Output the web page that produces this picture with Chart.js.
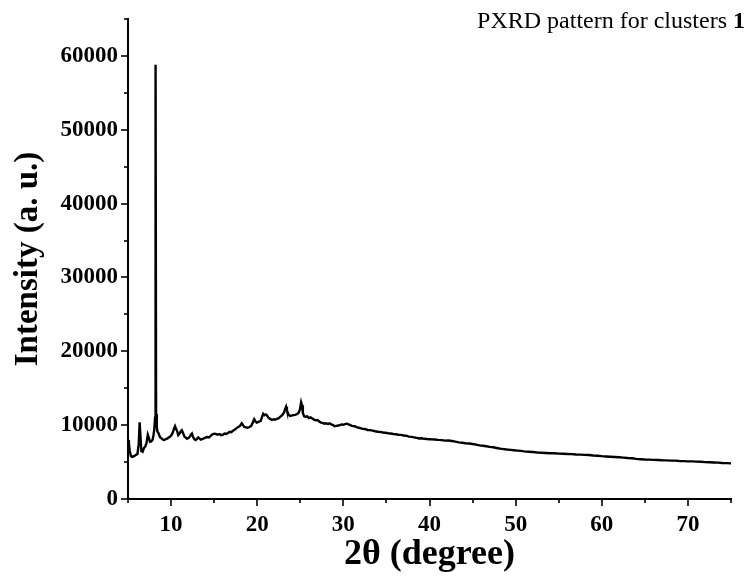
<!DOCTYPE html>
<html>
<head>
<meta charset="utf-8">
<script src="https://cdn.jsdelivr.net/npm/chart.js@4.4.1/dist/chart.umd.min.js"></script>
<style>
html,body{margin:0;padding:0;background:#fff;}
#wrap{position:relative;width:748px;height:577px;}
</style>
</head>
<body>
<div id="wrap"><canvas id="c" width="748" height="577"></canvas></div>
<script>
// ---- data ----
const chartTitle = "PXRD pattern for clusters ";
const chartTitleBold = "1";
const xTitle = "2θ (degree)";
const yTitle = "Intensity (a. u.)";
const xMajorTicks = [10, 20, 30, 40, 50, 60, 70];
const yMajorTicks = [0, 10000, 20000, 30000, 40000, 50000, 60000];

const twoTheta = [
  5.0,5.1,5.2,5.35,5.5,5.7,5.9,6.1,6.25,6.35,6.45,6.55,6.7,6.85,7.0,7.15,7.3,7.42,7.55,7.7,7.85,7.95,8.05,8.14,8.2,8.26,8.34,8.42,8.55,8.7,8.85,9.0,9.15,9.3,9.45,9.6,9.75,9.9,
  10.05,10.2,10.35,10.46,10.58,10.7,10.84,10.95,11.1,11.25,11.4,11.55,11.7,11.85,12.0,12.15,12.3,12.42,12.55,12.7,12.85,13.0,13.15,13.3,13.45,13.6,13.8,14.0,14.2,14.4,14.6,14.8,
  15.0,15.2,15.4,15.6,15.8,16.0,16.2,16.4,16.6,16.8,17.0,17.2,17.4,17.6,17.8,18.0,18.2,18.35,18.5,18.7,18.9,19.1,19.3,19.5,19.65,19.8,19.95,
  20.1,20.25,20.4,20.55,20.7,20.85,21.0,21.15,21.3,21.5,21.7,21.9,22.1,22.3,22.5,22.7,22.9,23.1,23.25,23.35,23.45,23.6,23.8,24.0,24.2,24.4,24.6,24.8,24.95,
  25.1,25.2,25.3,25.45,25.6,25.8,26.0,26.2,26.4,26.6,26.8,27.0,27.2,27.4,27.6,27.8,28.0,28.2,28.4,28.6,28.8,29.0,29.2,29.4,29.6,29.8,
  30.0,30.2,30.4,30.6,30.8,31.0,31.3,31.6,31.9,32.2,32.5,32.8,33.1,33.4,33.7,34.0,34.3,34.6,34.9,35.2,35.5,35.8,36.1,36.4,36.7,37.0,37.3,37.6,37.9,38.2,38.5,38.8,39.1,39.4,39.7,
  40.0,40.3,40.6,41.0,41.4,41.8,42.2,42.6,43.0,43.4,43.8,44.2,44.6,45.0,45.4,45.8,46.2,46.6,47.0,47.4,47.8,48.2,48.6,49.0,49.4,49.8,
  50.2,50.6,51.0,51.5,52.0,52.5,53.0,53.5,54.0,54.5,55.0,55.5,56.0,56.5,57.0,57.5,58.0,58.5,59.0,59.5,
  60.0,60.5,61.0,61.5,62.0,62.5,63.0,63.5,64.0,64.5,65.0,65.5,66.0,66.5,67.0,67.5,68.0,68.5,69.0,69.5,
  70.0,70.5,71.0,71.5,72.0,72.5,73.0,73.5,74.0,74.5,75.0
];
const intensity = [
  8000,7600,6500,5800,5700,5800,5950,6100,7500,10400,8500,6500,6400,6900,7100,7600,8700,8300,7750,7800,8000,8600,9400,11000,58800,11500,9800,9100,8900,8400,8250,8100,8000,8050,8150,8200,8350,8450,
  8650,9000,9550,9850,9500,9200,8650,8800,9100,9300,8900,8450,8300,8150,8250,8400,8700,8850,8400,8100,8000,8150,8350,8200,8050,8100,8200,8300,8400,8350,8550,8750,
  8850,8800,8700,8800,8650,8700,8850,8800,8950,9100,9050,9250,9400,9600,9750,9900,10250,10000,9750,9700,9650,9750,9900,10400,10800,10500,10350,
  10400,10500,10550,11100,11550,11350,11450,11300,11000,10850,10700,10800,10750,10850,10950,11150,11350,11700,12200,12500,12000,11500,11250,11300,11350,11400,11500,11650,12100,
  13100,12700,11600,11200,11150,11200,10950,11050,10900,10750,10650,10700,10500,10350,10300,10200,10250,10150,10250,10100,10000,9850,9900,9950,10000,10100,
  10050,10150,10200,10100,10000,9900,9850,9700,9620,9500,9480,9350,9330,9250,9170,9100,9080,9000,8970,8900,8870,8800,8770,8700,8680,8600,8570,8450,8420,8350,8280,8200,8220,8150,8120,
  8100,8070,8050,8000,7970,7900,7920,7850,7760,7660,7610,7550,7510,7450,7360,7260,7210,7150,7060,7000,6910,6820,6760,6700,6660,6600,
  6550,6510,6450,6400,6360,6300,6260,6230,6200,6190,6150,6130,6100,6080,6030,6010,5970,5960,5900,5860,
  5800,5760,5720,5690,5650,5610,5550,5510,5430,5390,5350,5330,5300,5290,5250,5230,5200,5190,5150,5130,
  5100,5090,5060,5050,5000,4980,4950,4930,4880,4860,4830
];

// ---- chart ----
const points = twoTheta.map((t, i) => ({x: t, y: intensity[i]}));
const serif = "'Liberation Serif','Times New Roman',serif";

const tickPlugin = {
  id: 'tickMarks',
  afterDraw(chart) {
    const ctx = chart.ctx;
    const xs = chart.scales.x, ys = chart.scales.y;
    const area = chart.chartArea;
    ctx.save();
    ctx.strokeStyle = '#000';
    ctx.lineWidth = 1.6;
    for (let v = xs.min; v <= xs.max + 1e-9; v += 5) {
      const px = Math.round(xs.getPixelForValue(v));
      const len = xMajorTicks.includes(v) ? 7 : 4;
      ctx.beginPath(); ctx.moveTo(px, area.bottom); ctx.lineTo(px, area.bottom + len); ctx.stroke();
    }
    for (let v = ys.min; v <= ys.max + 1e-9; v += 5000) {
      const py = Math.round(ys.getPixelForValue(v));
      const len = yMajorTicks.includes(v) ? 7 : 4;
      ctx.beginPath(); ctx.moveTo(area.left, py); ctx.lineTo(area.left - len, py); ctx.stroke();
    }
    // title text at top right
    ctx.fillStyle = '#000';
    ctx.textBaseline = 'alphabetic';
    ctx.textAlign = 'left';
    ctx.font = "bold 24px " + serif;
    const wb = ctx.measureText(chartTitleBold).width;
    ctx.font = "24px " + serif;
    const wn = ctx.measureText(chartTitle).width;
    const right = 745;
    ctx.fillText(chartTitle, right - wb - wn, 28);
    ctx.font = "bold 24px " + serif;
    ctx.fillText(chartTitleBold, right - wb, 28);
    ctx.restore();
  }
};

const zeroPad = s => { s.paddingTop = 0; s.paddingBottom = 0; s.paddingLeft = 0; s.paddingRight = 0; };

new Chart(document.getElementById('c'), {
  type: 'line',
  data: {
    datasets: [{
      data: points,
      borderColor: '#000',
      borderWidth: 2.4,
      pointRadius: 0,
      tension: 0,
      fill: false
    }]
  },
  options: {
    responsive: false,
    animation: false,
    events: [],
    layout: {padding: {top: 19, right: 17, left: 0, bottom: 0}},
    plugins: {legend: {display: false}, tooltip: {enabled: false}, title: {display: false}},
    scales: {
      x: {
        type: 'linear', min: 5, max: 75,
        afterFit: s => { s.height = 78; zeroPad(s); },
        grid: {display: false},
        border: {display: true, color: '#000', width: 2},
        ticks: {
          stepSize: 5, padding: 4, color: '#000', maxRotation: 0, autoSkip: false,
          font: {family: serif, size: 23, weight: 'bold'},
          callback: v => xMajorTicks.includes(v) ? String(v) : ''
        },
        title: {display: true, text: xTitle, color: '#000', padding: {top: 0, bottom: 1},
          font: {family: serif, size: 36, weight: 'bold'}}
      },
      y: {
        type: 'linear', min: 0, max: 65000,
        afterFit: s => { s.width = 128; zeroPad(s); },
        grid: {display: false},
        border: {display: true, color: '#000', width: 2},
        ticks: {
          stepSize: 5000, padding: 2, color: '#000', autoSkip: false,
          font: {family: serif, size: 23, weight: 'bold'},
          callback: v => yMajorTicks.includes(v) ? String(v) : ''
        },
        title: {display: true, text: yTitle, color: '#000', padding: {top: 9, bottom: 0},
          font: {family: serif, size: 33, weight: 'bold'}}
      }
    }
  },
  plugins: [tickPlugin]
});
</script>
</body>
</html>
